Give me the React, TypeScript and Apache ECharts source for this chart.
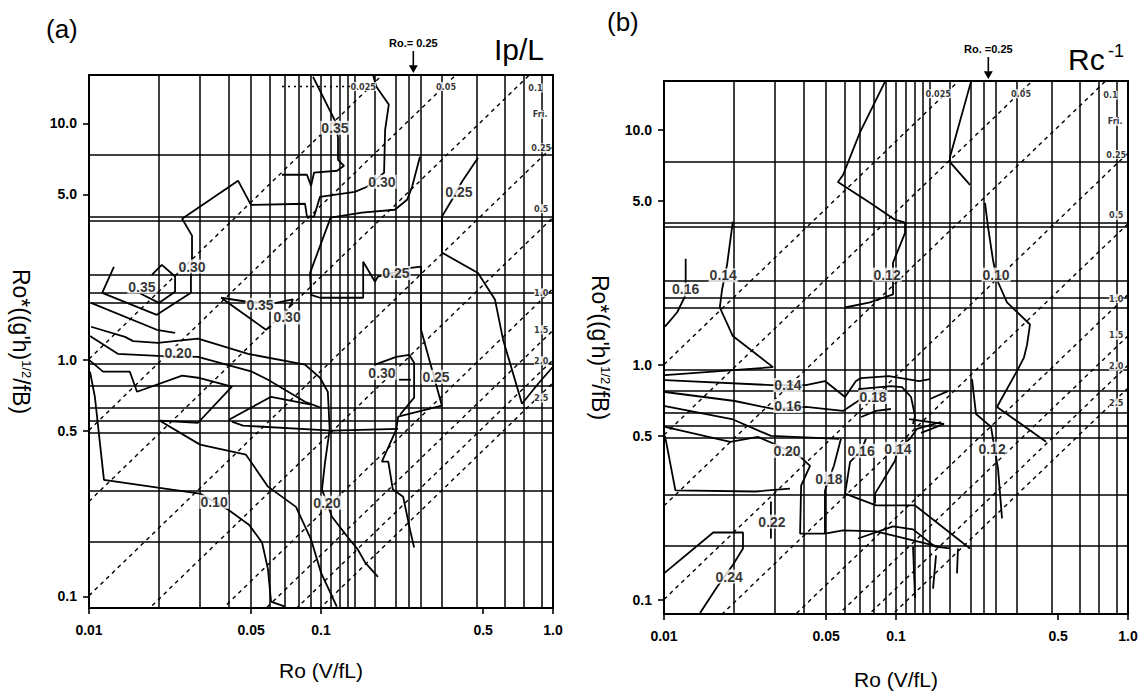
import React, { useEffect, useRef } from 'react';
import * as echarts from 'echarts';

// ---------- axes ----------
const roTicks = [0.01, 0.05, 0.1, 0.5, 1];
const roTickLabels = ['0.01', '0.05', '0.1', '0.5', '1.0'];
const roStarTicks = [0.1, 0.5, 1, 5, 10];
const roStarTickLabels = ['0.1', '0.5', '1.0', '5.0', '10.0'];

// ---------- measurement grid (columns of Ro, rows of Ro*) ----------
const roColumns = [0.02, 0.03, 0.04, 0.05, 0.06, 0.07, 0.08, 0.09, 0.1, 0.11, 0.12, 0.13, 0.14, 0.17, 0.21, 0.245, 0.27, 0.33, 0.47, 0.62, 0.75, 0.89];
const roStarRows = [7.37, 4.04, 3.88, 2.29, 1.93, 1.75, 0.96, 0.777, 0.631, 0.554, 0.488, 0.284, 0.166];

// ---------- internal Froude number lines ----------
const friValues = [0.025, 0.05, 0.1, 0.25, 0.5, 1.0, 1.5, 2.0, 2.5];
const friRoStarAtRoMin = [1.007, 0.504, 0.252, 0.1007, 0.0504, 0.0252, 0.0168, 0.0126, 0.0101];
const friRoStarAtRoMax = [80, 40, 20, 8, 4, 2, 1.333, 1.0, 0.8];
const friLabelTexts = ['0.025', '0.05', '0.1', 'Fri.', '0.25', '0.5', '1.0', '1.5', '2.0', '2.5'];
const friLabelRo = [0.152, 0.346, 0.84, 0.88, 0.89, 0.89, 0.89, 0.89, 0.89, 0.89];
const friLabelRoStar = [14.3, 14.3, 14.1, 10.9, 7.88, 4.35, 1.92, 1.34, 0.99, 0.69];

// ---------- panel (a): Ip/L contours ----------
const ipl030Outer = [[0.0128, 2.47], [0.0114, 1.92], [0.0196, 1.55], [0.0275, 1.92], [0.0275, 2.22], [0.0278, 2.73], [0.0278, 3.35], [0.0252, 3.95], [0.0439, 5.72], [0.0499, 4.52], [0.0853, 4.57], [0.087, 4.03], [0.0933, 4.03], [0.099, 4.89], [0.140, 5.13], [0.158, 5.39], [0.187, 6.18], [0.189, 9.39], [0.196, 12.0], [0.173, 14.3], [0.168, 15.9]];
const ipl035Left = [[0.0187, 2.29], [0.0206, 2.52], [0.0235, 2.25], [0.0235, 1.94], [0.0200, 1.74], [0.0164, 1.92]];
const ipl035Top = [[0.0679, 6.06], [0.087, 6.06], [0.0906, 5.44], [0.0933, 6.18], [0.1172, 6.30], [0.1257, 6.61], [0.1184, 7.01], [0.1184, 8.69], [0.1149, 10.25], [0.0924, 15.7]];
const ipl025Mid = [[0.267, 7.22], [0.247, 5.39], [0.235, 4.75], [0.208, 4.31], [0.150, 4.19], [0.110, 3.99], [0.0897, 2.33], [0.0906, 1.88], [0.099, 1.83], [0.152, 1.83], [0.152, 2.60], [0.171, 2.14], [0.176, 2.25], [0.244, 2.45], [0.270, 2.48], [0.270, 1.34], [0.332, 0.640], [0.215, 0.575], [0.211, 0.507], [0.183, 0.371], [0.195, 0.371], [0.204, 0.283], [0.226, 0.264], [0.242, 0.191], [0.252, 0.161]];
const ipl025Right = [[0.475, 7.15], [0.405, 5.66], [0.367, 4.75], [0.332, 4.03], [0.332, 2.84], [0.475, 2.33], [0.562, 1.80], [0.609, 1.22], [0.735, 0.652], [0.870, 0.800], [1.0, 0.935]];
const ipl030Small = [[0.219, 0.586], [0.252, 0.692], [0.252, 0.972], [0.240, 1.05], [0.211, 1.03], [0.171, 0.954]];
const ipl030SmallBase = [[0.217, 0.824], [0.244, 0.824]];
const ipl035Mid = [[0.0371, 1.83], [0.048, 1.76], [0.064, 1.74], [0.0757, 1.80], [0.0728, 1.66]];
const ipl030Mid = [[0.0371, 1.83], [0.0579, 1.34], [0.0609, 1.39]];
const ipl025Left = [[0.0102, 1.74], [0.0196, 1.34], [0.0235, 1.30]];
const ipl020Long = [[0.0102, 1.38], [0.0143, 1.25], [0.0155, 1.20], [0.0198, 1.18], [0.0295, 1.23], [0.0485, 1.06], [0.0853, 0.954], [0.099, 0.84], [0.107, 0.733], [0.109, 0.507], [0.104, 0.367], [0.101, 0.283], [0.1115, 0.217], [0.131, 0.177], [0.144, 0.158], [0.155, 0.139], [0.176, 0.121]];
const ipl020Left = [[0.0101, 1.26], [0.0133, 1.06], [0.0198, 1.04], [0.0295, 1.03], [0.0504, 0.891], [0.0591, 0.824], [0.0853, 0.665], [0.1, 0.627]];
const ipl015 = [[0.01, 1.0], [0.0115, 0.891], [0.015, 0.891], [0.0161, 0.733], [0.0252, 0.857], [0.0295, 0.84], [0.0413, 0.77], [0.0295, 0.542], [0.0202, 0.553], [0.0301, 0.438], [0.0475, 0.397], [0.0591, 0.291], [0.078, 0.239], [0.0906, 0.174], [0.1, 0.126], [0.117, 0.0905]];
const ipl015Upper = [[0.0401, 0.558], [0.0609, 0.698], [0.0906, 0.646]];
const ipl015Lower = [[0.0413, 0.548], [0.0461, 0.527], [0.1115, 0.502], [0.215, 0.511]];
const ipl010 = [[0.0101, 0.891], [0.0106, 0.698], [0.0116, 0.311], [0.0198, 0.288], [0.0301, 0.272], [0.0397, 0.233], [0.0489, 0.201], [0.0557, 0.169], [0.0591, 0.130], [0.0609, 0.095], [0.070, 0.0905]];
const iplDotted = [[0.0679, 14.3], [0.136, 14.3]];

const iplLabelTexts = ['0.35', '0.30', '0.35', '0.30', '0.25', '0.25', '0.35', '0.30', '0.20', '0.30', '0.25', '0.10', '0.20'];
const iplLabelRo = [0.0169, 0.0278, 0.1149, 0.1832, 0.3933, 0.2105, 0.0546, 0.0714, 0.0242, 0.1832, 0.3132, 0.0346, 0.1061];
const iplLabelRoStar = [2.04, 2.48, 9.57, 5.66, 5.13, 2.33, 1.71, 1.51, 1.07, 0.882, 0.848, 0.251, 0.249];

// ---------- panel (b): Rc^-1 contours ----------
const rc012Upper = [[0.0897, 16.1], [0.070, 9.81], [0.0591, 6.45], [0.0562, 6.02], [0.0772, 4.91], [0.099, 4.16], [0.1094, 4.04], [0.1094, 3.66], [0.0971, 2.73], [0.0971, 2.0], [0.0772, 1.85], [0.0603, 1.76]];
const rc012Top = [[0.2105, 16.1], [0.1709, 7.69], [0.1709, 7.32], [0.2084, 5.85]];
const rc010 = [[0.2419, 4.91], [0.2492, 3.88], [0.2618, 2.81], [0.2724, 2.31], [0.3009, 1.85], [0.3781, 1.49], [0.3671, 1.22], [0.3563, 1.08], [0.3356, 0.962], [0.2724, 0.664], [0.4433, 0.472]];
const rc012Lower = [[0.2126, 0.872], [0.2212, 0.620], [0.2568, 0.546], [0.2618, 0.486], [0.2753, 0.363], [0.2808, 0.284], [0.2864, 0.223]];
const rc014Left = [[0.0198, 4.08], [0.0187, 2.68], [0.0178, 2.10], [0.0174, 1.76], [0.0198, 1.33], [0.0295, 0.981], [0.0101, 0.907]];
const rc016Left = [[0.0124, 2.84], [0.0124, 2.29], [0.0123, 1.96], [0.0114, 1.68], [0.0101, 1.46]];
const rc014Mid = [[0.0101, 0.864], [0.0289, 0.823], [0.0409, 0.823], [0.0494, 0.856], [0.0603, 0.732], [0.0672, 0.856], [0.0707, 0.881], [0.0933, 0.898], [0.1257, 0.856], [0.1402, 0.872]];
const rc016Mid = [[0.0101, 0.769], [0.0202, 0.704], [0.0295, 0.651], [0.0409, 0.664], [0.0591, 0.639], [0.0707, 0.718]];
const rc018Mid = [[0.0101, 0.670], [0.0196, 0.590], [0.0289, 0.50], [0.0568, 0.486]];
const rc020 = [[0.0101, 0.546], [0.0193, 0.472], [0.0254, 0.495], [0.0298, 0.463], [0.0386, 0.408], [0.0426, 0.373], [0.039, 0.307], [0.0386, 0.192], [0.0494, 0.192], [0.0591, 0.198], [0.082, 0.196], [0.153, 0.169]];
const rc018Low = [[0.0579, 0.486], [0.054, 0.373], [0.0494, 0.293], [0.0494, 0.192]];
const rc016Low = [[0.0742, 0.486], [0.0707, 0.432], [0.0634, 0.388], [0.0603, 0.284], [0.082, 0.253], [0.1208, 0.253], [0.2084, 0.166]];
const rc014Low = [[0.1563, 0.573], [0.1232, 0.536], [0.1149, 0.486], [0.102, 0.441], [0.099, 0.392], [0.0812, 0.284], [0.0812, 0.258]];
const rc018Loop = [[0.0686, 0.791], [0.0951, 0.815], [0.1061, 0.807], [0.1161, 0.732], [0.1208, 0.608], [0.1184, 0.562]];
const rc017a = [[0.0707, 0.602], [0.082, 0.639], [0.0951, 0.651]];
const rc017b = [[0.1402, 0.718], [0.1675, 0.776]];
const rc015a = [[0.1138, 0.590], [0.161, 0.562], [0.1282, 0.515]];
const rc022Outer = [[0.0101, 0.50], [0.0112, 0.293], [0.0247, 0.290], [0.0349, 0.298]];
const rc022 = [[0.0289, 0.263], [0.0289, 0.183]];
const rc024 = [[0.01, 0.130], [0.0163, 0.194], [0.0219, 0.194], [0.0219, 0.166], [0.0198, 0.141], [0.0169, 0.1135], [0.0143, 0.0881]];
const rc019 = [[0.0686, 0.183], [0.0971, 0.206], [0.1184, 0.20], [0.1473, 0.169], [0.1709, 0.166]];
const rcDrop1 = [[0.1184, 0.169], [0.1208, 0.102]];
const rcDrop2 = [[0.1488, 0.155], [0.1444, 0.112]];
const rcDrop3 = [[0.185, 0.166], [0.1832, 0.130]];

const rcLabelTexts = ['0.16', '0.14', '0.12', '0.10', '0.14', '0.16', '0.18', '0.20', '0.16', '0.14', '0.12', '0.18', '0.22', '0.24'];
const rcLabelRo = [0.0124, 0.0180, 0.0915, 0.2698, 0.0342, 0.0342, 0.0796, 0.0339, 0.0707, 0.102, 0.2594, 0.0514, 0.0292, 0.0191];
const rcLabelRoStar = [2.10, 2.41, 2.43, 2.43, 0.823, 0.670, 0.732, 0.432, 0.432, 0.441, 0.441, 0.329, 0.216, 0.126];

const arrowRo = 0.25;

const FONT = '"Liberation Sans", Arial, Helvetica, sans-serif';
const NARROW = '"Liberation Sans Narrow", "DejaVu Sans Condensed", "Liberation Sans", sans-serif';

const fmt = (ticks: number[], labels: string[]) => (v: number) => {
  for (let i = 0; i < ticks.length; i++) {
    if (Math.abs(Math.log10(v) - Math.log10(ticks[i])) < 0.005) return labels[i];
  }
  return '';
};

function buildOption() {
  const panels = [
    {
      left: 89, top: 75, width: 464, height: 533, yMin: 0.0893, yMax: 16.0, yGap: 56, xGap: 52,
      contours: [ipl030Outer, ipl035Left, ipl035Top, ipl025Mid, ipl025Right, ipl030Small, ipl030SmallBase, ipl035Mid, ipl030Mid, ipl025Left, ipl020Long, ipl020Left, ipl015, ipl015Upper, ipl015Lower, ipl010],
      dotted: [iplDotted],
      lt: iplLabelTexts, lx: iplLabelRo, ly: iplLabelRoStar,
      arrowLabel: 'Ro.= 0.25',
    },
    {
      left: 664, top: 81, width: 464, height: 535, yMin: 0.0873, yMax: 16.2, yGap: 52, xGap: 55,
      contours: [rc012Upper, rc012Top, rc010, rc012Lower, rc014Left, rc016Left, rc014Mid, rc016Mid, rc018Mid, rc020, rc018Low, rc016Low, rc014Low, rc018Loop, rc017a, rc017b, rc015a, rc022Outer, rc022, rc024, rc019, rcDrop1, rcDrop2, rcDrop3],
      dotted: [],
      lt: rcLabelTexts, lx: rcLabelRo, ly: rcLabelRoStar,
      arrowLabel: 'Ro. =0.25',
    },
  ];

  const grid: any[] = [];
  const xAxis: any[] = [];
  const yAxis: any[] = [];
  const series: any[] = [];

  panels.forEach((p, i) => {
    grid.push({ left: p.left, top: p.top, width: p.width, height: p.height, show: true, borderColor: '#000', borderWidth: 2, backgroundColor: 'transparent' });
    xAxis.push({
      type: 'log', gridIndex: i, min: 0.01, max: 1, logBase: 10,
      axisLine: { show: true, onZero: false, lineStyle: { color: '#000', width: 2 } },
      axisTick: { show: true, customValues: roTicks, length: 6, lineStyle: { color: '#000', width: 1.6 } },
      axisLabel: { customValues: roTicks, formatter: fmt(roTicks, roTickLabels), color: '#000', fontSize: 14, fontWeight: 'bold', fontFamily: FONT, margin: 15 },
      splitLine: { show: false }, minorTick: { show: false }, minorSplitLine: { show: false },
      name: 'Ro (V/fL)', nameLocation: 'middle', nameGap: p.xGap,
      nameTextStyle: { fontSize: 21, color: '#000', fontFamily: FONT },
    });
    yAxis.push({
      type: 'log', gridIndex: i, min: p.yMin, max: p.yMax, logBase: 10,
      axisLine: { show: true, onZero: false, lineStyle: { color: '#000', width: 2 } },
      axisTick: { show: true, customValues: roStarTicks, length: 6, lineStyle: { color: '#000', width: 1.6 } },
      axisLabel: { customValues: roStarTicks, formatter: fmt(roStarTicks, roStarTickLabels), color: '#000', fontSize: 14, fontWeight: 'bold', fontFamily: FONT, margin: 12 },
      splitLine: { show: false }, minorTick: { show: false }, minorSplitLine: { show: false },
      name: "Ro*((g'h){sup|1/2}/fB)", nameLocation: 'middle', nameRotate: -90, nameGap: p.yGap,
      nameTextStyle: { fontSize: 23, color: '#000', fontFamily: FONT, rich: { sup: { fontSize: 13, fontFamily: FONT, color: '#000', verticalAlign: 'top', padding: [0, 0, 11, 0] } } },
    });

    // measurement grid lines
    series.push({
      type: 'line', xAxisIndex: i, yAxisIndex: i, data: [], silent: true, z: 1,
      markLine: {
        silent: true, symbol: ['none', 'none'], label: { show: false }, emphasis: { disabled: true },
        lineStyle: { color: '#000', width: 1.5, type: 'solid' },
        data: [...roColumns.map((v) => ({ xAxis: v })), ...roStarRows.map((v) => ({ yAxis: v }))],
      },
    });

    // Froude lines
    friValues.forEach((f, k) => {
      series.push({
        type: 'line', name: 'Fri ' + f, xAxisIndex: i, yAxisIndex: i, silent: true, z: 2, clip: true,
        symbol: 'none', data: [[0.01, friRoStarAtRoMin[k]], [1, friRoStarAtRoMax[k]]],
        lineStyle: { color: '#000', width: 1.4, type: [4, 4] },
      });
    });

    p.contours.forEach((c) => {
      series.push({ type: 'line', xAxisIndex: i, yAxisIndex: i, data: c, symbol: 'none', clip: true, silent: true, z: 3, lineStyle: { color: '#000', width: 1.8 } });
    });
    p.dotted.forEach((c) => {
      series.push({ type: 'line', xAxisIndex: i, yAxisIndex: i, data: c, symbol: 'none', clip: true, silent: true, z: 3, lineStyle: { color: '#000', width: 1.5, type: [2, 4] } });
    });

    // contour labels
    series.push({
      type: 'scatter', xAxisIndex: i, yAxisIndex: i, symbolSize: 0, silent: true, z: 6, clip: false,
      data: p.lt.map((t, k) => ({ name: t, value: [p.lx[k], p.ly[k]] })),
      label: { show: true, position: 'inside', formatter: '{b}', color: '#000', fontSize: 14, fontWeight: 'bold', fontFamily: FONT, backgroundColor: '#fff', padding: [0, 1] },
    });

    // Fri labels + Ro=0.25 arrow
    series.push({
      type: 'scatter', xAxisIndex: i, yAxisIndex: i, symbolSize: 0, silent: true, z: 6, clip: false,
      data: friLabelTexts.map((t, k) => ({ name: t, value: [friLabelRo[k], friLabelRoStar[k]] })),
      label: { show: true, position: 'inside', formatter: '{b}', color: '#000', fontSize: 9, fontWeight: 'bold', fontFamily: NARROW, backgroundColor: '#fff', padding: [0, 0] },
      markPoint: {
        silent: true, animation: false,
        symbol: 'path://M3.3,0 L4.7,0 L4.7,13 L8,13 L4,20 L0,13 L3.3,13 Z',
        symbolSize: [9, 22], symbolOffset: [0, -13],
        itemStyle: { color: '#000' },
        label: { show: true, position: 'top', distance: 3, formatter: p.arrowLabel, color: '#000', fontSize: 11, fontWeight: 'bold', fontFamily: FONT },
        data: [{ coord: [arrowRo, p.yMax] }],
      },
    });
  });

  return {
    animation: false,
    backgroundColor: '#fff',
    grid, xAxis, yAxis, series,
    graphic: [
      { type: 'text', left: 46, top: 16, style: { text: '(a)', fontSize: 26, fontFamily: FONT, fill: '#000' } },
      { type: 'text', left: 607, top: 9, style: { text: '(b)', fontSize: 26, fontFamily: FONT, fill: '#000' } },
      { type: 'text', left: 494, top: 34, style: { text: 'Ip/L', fontSize: 30, fontFamily: FONT, fill: '#000' } },
      { type: 'text', left: 1068, top: 44, style: { text: 'Rc', fontSize: 30, fontFamily: FONT, fill: '#000' } },
      { type: 'text', left: 1108, top: 42, style: { text: '-1', fontSize: 18, fontFamily: FONT, fill: '#000' } },
    ],
  };
}

export default function App() {
  const ref = useRef<HTMLDivElement>(null);
  useEffect(() => {
    const chart = echarts.init(ref.current as HTMLDivElement, undefined, { renderer: 'svg' });
    chart.setOption(buildOption() as any);
    return () => chart.dispose();
  }, []);
  return <div ref={ref} style={{ position: 'absolute', left: 0, top: 0, width: 1148, height: 695, background: '#fff' }} />;
}
